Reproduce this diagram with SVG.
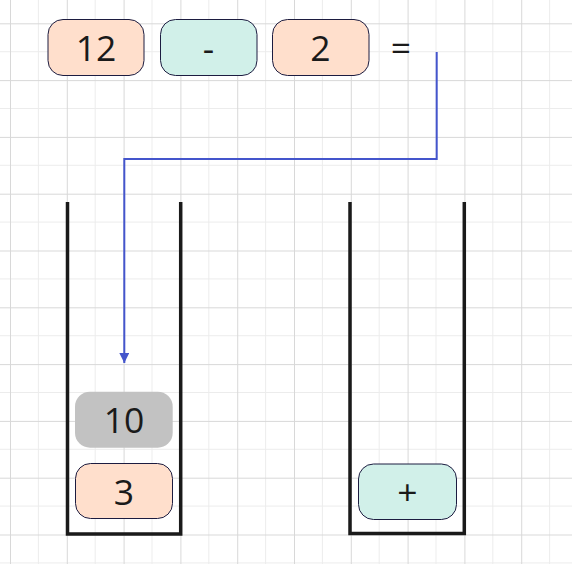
<svg xmlns="http://www.w3.org/2000/svg" width="572" height="564" viewBox="0 0 572 564">
  <defs>
    <pattern id="grid" patternUnits="userSpaceOnUse" x="10" y="23.3" width="56.8" height="56.8">
      <path d="M28.4 0V56.8M0 28.4H56.8" stroke="#ececec" stroke-width="1" fill="none"/>
      <path d="M0.5 0V56.8M0 0.5H56.8" stroke="#d8d8d8" stroke-width="1" fill="none"/>
    </pattern>
    <marker id="arrow" viewBox="0 0 10 10" refX="10" refY="5" markerWidth="10" markerHeight="10" markerUnits="userSpaceOnUse" orient="auto">
      <path d="M0 0L10 5L0 10Z" fill="#4455cc"/>
    </marker>
  </defs>
  <style>
    .peach { fill: #ffdfcc; stroke: #1c1c40; stroke-width: 1; }
    .mint { fill: #d1f0e9; stroke: #1c1c40; stroke-width: 1; }
    .grey { fill: #c2c2c2; stroke: none; }
    .lbl { font-family: "Open Sans", "Noto Sans", sans-serif; font-size: 35.5px; fill: #1a1a1a; text-anchor: middle; }
    .wall { stroke: #1a1a1a; stroke-width: 3.5; fill: none; stroke-linejoin: miter; }
    .conn { stroke: #4455cc; stroke-width: 2; fill: none; }
  </style>
  <rect x="0" y="0" width="572" height="564" fill="#ffffff"/>
  <rect x="0" y="0" width="572" height="564" fill="url(#grid)"/>

  <g id="stacks">
    <path class="wall" d="M67.5 202V534H180.7V202"/>
    <path class="wall" d="M350 202V533.5H464.3V202"/>
  </g>

  <g id="connectors">
    <path class="conn" d="M436.7 52V159H124.3V363" marker-end="url(#arrow)"/>
  </g>

  <g id="node-12">
    <rect class="peach" x="48" y="19.5" width="96" height="56" rx="15"/>
    <text class="lbl" x="96" y="60.7">12</text>
  </g>
  <g id="node-minus">
    <rect class="mint" x="160.5" y="19.5" width="96.5" height="56" rx="15"/>
    <text class="lbl" x="208.5" y="60.7">-</text>
  </g>
  <g id="node-2">
    <rect class="peach" x="272.5" y="19.5" width="96.5" height="56" rx="15"/>
    <text class="lbl" x="320.5" y="60.7">2</text>
  </g>
  <g id="node-eq">
    <text class="lbl" x="401" y="60.7">=</text>
  </g>
  <g id="node-10">
    <rect class="grey" x="75" y="391.7" width="97.7" height="56" rx="15"/>
    <text class="lbl" x="124" y="432.5">10</text>
  </g>
  <g id="node-3">
    <rect class="peach" x="75.5" y="463.5" width="97" height="55" rx="15"/>
    <text class="lbl" x="124" y="504.8">3</text>
  </g>
  <g id="node-plus">
    <rect class="mint" x="358.5" y="464" width="98" height="55.5" rx="15"/>
    <text class="lbl" x="407.5" y="505.3">+</text>
  </g>
</svg>
